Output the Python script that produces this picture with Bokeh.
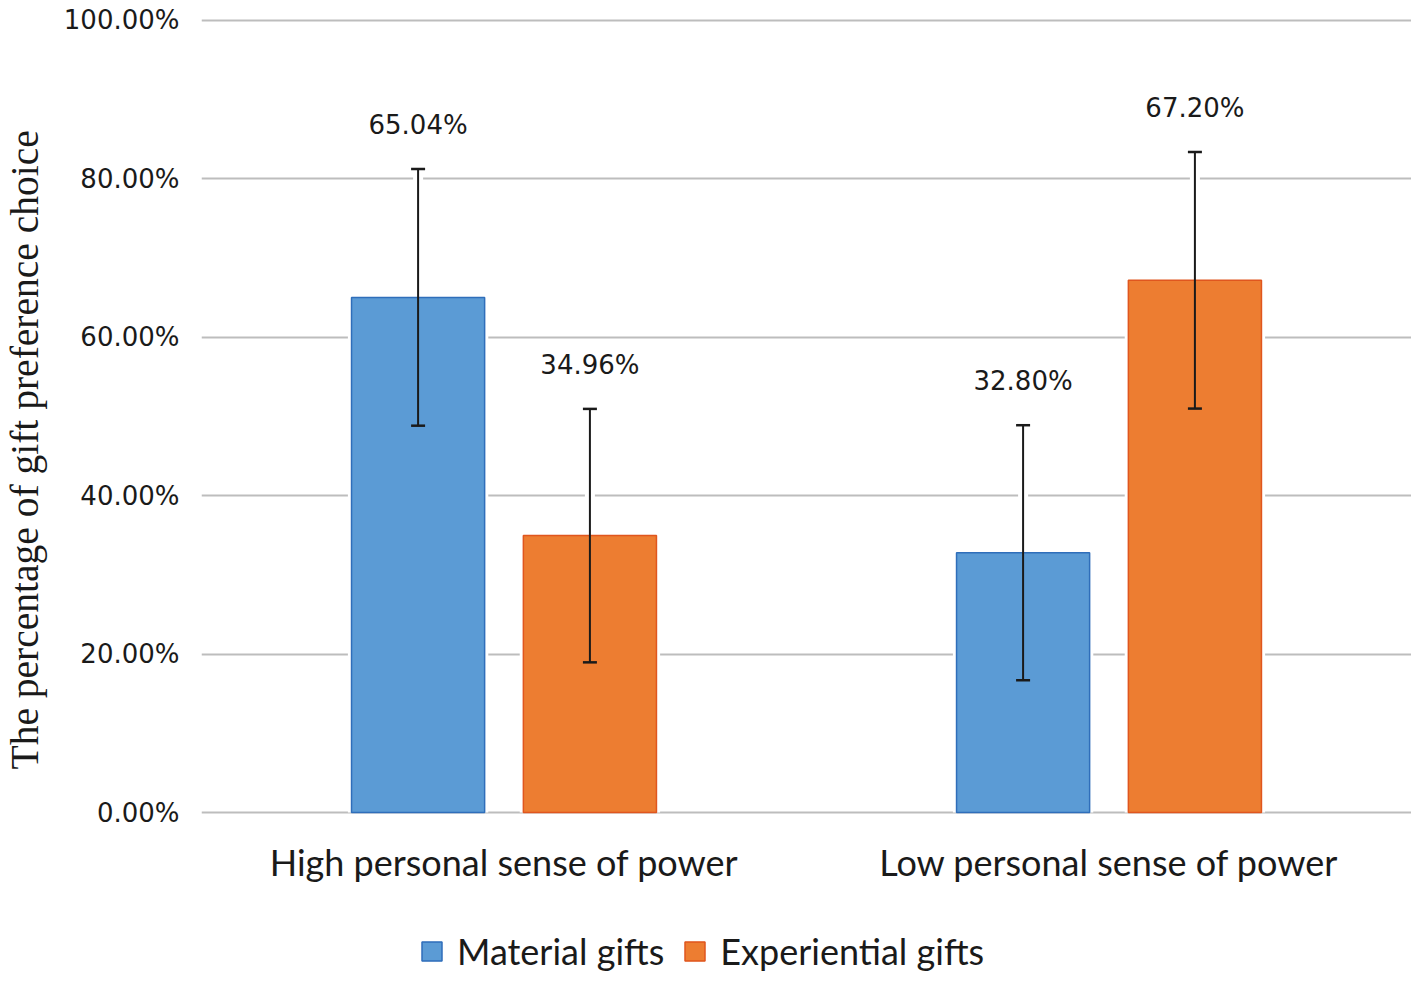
from bokeh.plotting import figure
from bokeh.layouts import column
from bokeh.models import (ColumnDataSource, FactorRange, Range1d, FixedTicker, PrintfTickFormatter,
                          Whisker, TeeHead, Legend, LegendItem, Title, BoxAnnotation)
from bokeh.transform import dodge
from bokeh.core.properties import value
from bokeh.embed import file_html
from bokeh.resources import INLINE

categories = ["High personal sense of power", "Low personal sense of power"]
series = ["Material gifts", "Experiential gifts"]
material = [65.04, 32.80]
experiential = [34.96, 67.20]
material_err = [16.2, 16.1]
experiential_err = [16.0, 16.2]
y_ticks = [0, 20, 40, 60, 80, 100]

BLUE, BLUE_LINE = "#5B9BD5", "#2F6EBA"
ORANGE, ORANGE_LINE = "#ED7D31", "#E0561E"
GRID = "#BDBDBD"

p = figure(frame_width=1210, frame_height=796, x_range=FactorRange(*categories, range_padding=0),
           y_range=Range1d(-0.25, 100.25), output_backend="svg", toolbar_location=None,
           min_border_left=200, min_border_right=0, min_border_top=18, min_border_bottom=100)
p.outline_line_color = None
p.background_fill_color = "white"
p.border_fill_color = "white"

def src(vals, errs):
    return ColumnDataSource(dict(cat=categories, v=vals, lo=[a - b for a, b in zip(vals, errs)],
                                 hi=[a + b for a, b in zip(vals, errs)],
                                 lab=["%.2f%%" % a for a in vals]))

s_m = src(material, material_err)
s_e = src(experiential, experiential_err)

off = 0.142
bw = 0.22
specs = [(s_m, -off, BLUE, BLUE_LINE, series[0]), (s_e, off, ORANGE, ORANGE_LINE, series[1])]
for s, o, fc, lc, name in specs:
    xd = dodge("cat", o, range=p.x_range)
    p.vbar(x=xd, top="v", bottom=0, width=bw + 0.012, source=s, fill_color="white", line_color=None)
    p.vbar(x=xd, top="v", bottom=0, width=bw, source=s, fill_color=fc, line_color=lc, line_width=1.5)
    wh_bg = Whisker(base=xd, upper="hi", lower="lo", source=s, line_color="white", line_width=10,
                    upper_head=None, lower_head=None, level="underlay")
    p.add_layout(wh_bg)
    wh = Whisker(base=xd, upper="hi", lower="lo", source=s, line_color="#1a1a1a", line_width=2,
                 upper_head=TeeHead(size=14, line_width=2.5, line_color="#1a1a1a"),
                 lower_head=TeeHead(size=14, line_width=2.5, line_color="#1a1a1a"), level="overlay")
    p.add_layout(wh)
    p.text(x=xd, y="hi", text="lab", source=s, y_offset=-44, text_align="center", text_baseline="middle",
           text_font=value("DejaVu Sans"), text_font_size="26px", text_color="#1a1a1a")

# axes
p.yaxis.ticker = FixedTicker(ticks=y_ticks)
p.yaxis.formatter = PrintfTickFormatter(format="%.2f%%")
p.yaxis.axis_line_color = None
p.yaxis.major_tick_line_color = None
p.yaxis.minor_tick_line_color = None
p.yaxis.major_label_standoff = 16
p.yaxis.major_label_text_font = "DejaVu Sans"
p.yaxis.major_label_text_font_size = "26px"
p.yaxis.major_label_text_color = "#1a1a1a"
# small invisible spacer between tick labels and the vertical title
p.yaxis.axis_label = " "
p.yaxis.axis_label_text_font_size = "1px"
p.yaxis.axis_label_standoff = 10

p.xaxis.axis_line_color = None
p.xaxis.major_tick_line_color = None
p.xaxis.minor_tick_line_color = None
p.xaxis.major_label_standoff = 19
p.xaxis.major_label_text_font = "Lato"
p.xaxis.major_label_text_font_size = "36px"
p.xaxis.major_label_text_color = "#1a1a1a"

p.xgrid.grid_line_color = None
p.ygrid.ticker = FixedTicker(ticks=y_ticks)
p.ygrid.grid_line_color = GRID
p.ygrid.grid_line_width = 2

p.add_layout(Title(text="The percentage of gift preference choice", align="left",
                   text_font="Liberation Serif", text_font_size="39.5px", text_font_style="normal",
                   text_color="#1a1a1a", offset=45, standoff=0), "left")

# legend strip below the chart (same data; bars fall far outside this strip's y range)
lf = figure(width=1410, height=64, x_range=p.x_range, y_range=Range1d(100000, 100001),
            output_backend="svg", toolbar_location=None, x_axis_location=None, y_axis_location=None,
            min_border=0)
lf.grid.visible = False
lf.outline_line_color = None
items = []
for s, o, fc, lc, name in specs:
    r = lf.vbar(x=dodge("cat", o, range=p.x_range), top="v", bottom="v", width=bw, source=s,
                fill_color=fc, line_color=lc, line_width=1.5)
    items.append(LegendItem(label=name, renderers=[r]))
# white cover so nothing of the proxy bars can show in the strip
lf.add_layout(BoxAnnotation(fill_color="white", fill_alpha=1.0, line_color=None))
leg = Legend(items=items, orientation="horizontal", location=(218, 5), padding=0, margin=0,
             border_line_color=None, background_fill_alpha=0, glyph_width=25, glyph_height=24,
             label_standoff=13, spacing=18, label_text_font="Lato", label_text_font_size="36px",
             label_text_color="#1a1a1a", label_height=40)
lf.add_layout(leg, "center")

layout = column(p, lf, spacing=0)
open("out.html", "w").write(file_html(layout, INLINE))
